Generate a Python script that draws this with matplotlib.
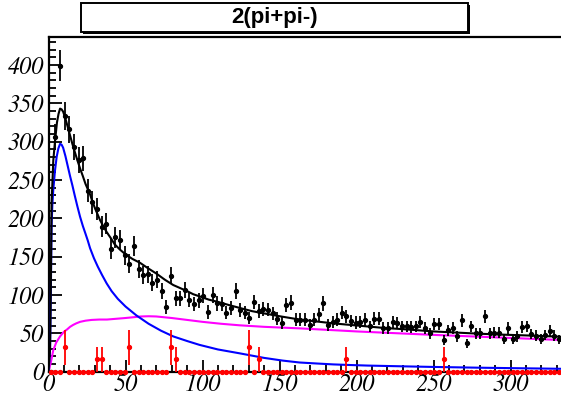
import numpy as np
import matplotlib
matplotlib.use("Agg")
import matplotlib.pyplot as plt
from matplotlib.patches import Rectangle
from matplotlib.ticker import MultipleLocator
from matplotlib.font_manager import FontProperties

# ---------------- data ----------------
title = "2(pi+pi-)"
bin_width = 3.0
bin_first = 1.5
black_counts = [0, 306, 399, 333, 316, 293, 276, 278, 236, 221,
                212, 189, 193, 160, 175, 172, 152, 141, 164, 134,
                126, 127, 116, 120, 105, 84, 125, 96, 96, 107,
                94, 88, 93,
                99, 78, 100, 89, 88, 77, 83, 105, 80, 77,
                70, 91, 79, 82, 81, 76, 69, 63, 87, 90,
                68, 68, 68, 61, 68, 75, 89, 61, 65, 68,
                77, 72, 66, 64, 65, 68, 59, 69, 69, 57,
                57, 65, 63, 59, 59, 58, 59, 65, 57, 50,
                62, 62, 41, 54, 57, 46, 67, 37, 59, 50,
                50, 72, 50, 51, 51, 42, 57, 42, 46, 58,
                59, 49, 47, 43, 48, 53, 47, 42]
red_weight = 16
red_nonzero_x = [10.5, 31.5, 34.5, 52.5, 79.5, 82.5, 130.5, 136.5, 193.5, 256.5]
red_nonzero_y = [32, 16, 16, 32, 32, 16, 32, 16, 16, 16]

total_x = [0, 1, 1.5, 2, 3.1, 4.2, 5.5, 6.5, 7.5, 8.5, 9.5, 11, 12.5, 14, 15.5, 17, 18.7,
           20.5, 22.3, 24, 25.5, 27, 28.5, 30, 31.7, 33.4, 35.5, 37.8, 40.5, 43, 46.5,
           50, 54.5, 59.4, 64.5, 70, 75.5, 81, 85.5, 90, 94, 98.4, 104, 110, 117, 124.4,
           132, 140, 151, 163, 174, 185, 196, 207, 218, 230, 240, 250, 265, 280, 295,
           310, 322, 333, 350]
total_y = [0, 30, 110, 220, 275, 300, 325, 336, 343, 342, 339, 330, 319, 308, 297, 287, 276,
           265, 255, 245, 238, 231, 222, 214, 206, 198, 190, 182, 174, 166, 159,
           153, 147, 142, 135, 128, 120, 113, 109, 105, 101, 98, 94, 91, 87, 83,
           79, 76, 72, 68, 65.5, 63, 61, 59, 57, 55.5, 54, 52.5, 51, 49.5, 48.3,
           47.3, 46.4, 45.6, 44.5]

signal_x = [0, 1, 1.5, 2, 2.5, 3.1, 4.2, 5.3, 6.4, 7.5, 8.5, 9.5, 11, 12.5, 14, 15.5, 17,
            18.7, 20.5, 22.3, 24, 25.5, 27, 29.5, 32, 34.8, 37.8, 41, 45, 50, 57,
            65, 73, 81, 90, 98, 110, 124, 140, 152, 163, 175, 185, 196, 207, 230, 250,
            280, 310, 340, 350]
signal_y = [0, 28, 100, 190, 218, 237, 262, 280, 291, 297, 296, 292, 281, 268, 255, 243, 230,
            216, 202, 190, 180, 171, 161, 148, 137, 126, 115, 105, 95, 85, 73.5,
            62.5, 53.5, 46, 40, 35, 29, 24, 18, 14.5, 12, 10.6, 9.5, 8.7, 8, 7, 6.2,
            5.2, 4.4, 3.6, 3.4]

bkg_x = [0, 1.5, 3.1, 5, 7.5, 10, 12, 14, 16, 18, 20.5, 24, 28, 33, 38, 44, 50, 55, 60,
         65, 70, 75, 80, 86, 92, 100, 112, 124, 140, 163, 200, 250, 300, 333, 350]
bkg_y = [0, 12, 28, 38, 46, 52, 55, 58.5, 61, 63, 65, 66.5, 67.5, 68, 68, 69, 70, 71, 72,
         72.3, 72, 71, 70, 68.5, 67, 65, 62.5, 60.5, 58.5, 56.5, 52.5, 48, 44, 41.3, 40.5]

xticks = [0, 50, 100, 150, 200, 250, 300]
yticks = [0, 50, 100, 150, 200, 250, 300, 350, 400]

# ---------------- figure ----------------
W, H = 561, 398
fig = plt.figure(figsize=(W / 100, H / 100), dpi=100)

x0_px, px_per_x = 48.5, 1.54
y0_px, ytop_px = 371.7, 36.5
ymax = 437.0
xmax = 350.0
ax = fig.add_axes([x0_px / W, (H - y0_px) / H,
                   xmax * px_per_x / W, (y0_px - ytop_px) / H])
ax.set_xlim(0, xmax)
ax.set_ylim(0, ymax)

n = len(black_counts)
xc = bin_first + bin_width * np.arange(n)
black = np.array(black_counts, dtype=float)
red = np.zeros(n)
for rx, ry in zip(red_nonzero_x, red_nonzero_y):
    red[int(round((rx - bin_first) / bin_width))] = ry

# fitted curves
ax.plot(bkg_x, bkg_y, color="#ff00ff", lw=1.5, zorder=3)
ax.plot(signal_x, signal_y, color="#0000ff", lw=1.5, zorder=3)
ax.plot(total_x, total_y, color="black", lw=1.5, zorder=3)

# black data
ax.errorbar(xc, black, yerr=np.sqrt(black), fmt="o", color="black", ms=2.8,
            elinewidth=1.3, capsize=0, zorder=4)
# red data
ax.errorbar(xc, red, yerr=np.sqrt(red * red_weight), fmt="o", color="#ff0000", ms=2.8,
            elinewidth=1.3, capsize=0, zorder=5, clip_on=False)

# axes style
for s in ["top", "left", "bottom", "right"]:
    ax.spines[s].set_linewidth(1.6)
tick_font = FontProperties(family="STIXGeneral", style="italic", size=17.5)
ax.set_xticks(xticks)
ax.set_xticklabels([str(t) for t in xticks], fontproperties=tick_font)
ax.set_yticks(yticks)
ax.set_yticklabels([str(t) for t in yticks], fontproperties=tick_font)
ax.xaxis.set_minor_locator(MultipleLocator(10))
ax.yaxis.set_minor_locator(MultipleLocator(10))
ax.tick_params(which="major", direction="in", length=9, width=1.3,
               top=False, right=False, pad=3)
ax.tick_params(which="minor", direction="in", length=5, width=1.3,
               top=False, right=False)
ax.tick_params(axis="x", pad=1)

# title box with shadow
bx0, by0, bx1, by1 = 81, 3, 468, 32
shadow = Rectangle(((bx0 + 2) / W, (H - by1 - 2) / H),
                   (bx1 - bx0) / W, (by1 - by0) / H, transform=fig.transFigure,
                   facecolor="black", edgecolor="black", lw=0)
fig.patches.append(shadow)
box = Rectangle((bx0 / W, (H - by1) / H), (bx1 - bx0) / W, (by1 - by0) / H,
                transform=fig.transFigure, facecolor="white", edgecolor="black", lw=1.4)
fig.patches.append(box)
fig.text((bx0 + bx1) / 2 / W, (H - (by0 + by1) / 2) / H, title,
         ha="center", va="center", fontsize=16, fontweight="bold",
         family=["Liberation Sans", "DejaVu Sans"])

fig.savefig("out.png", dpi=100)
